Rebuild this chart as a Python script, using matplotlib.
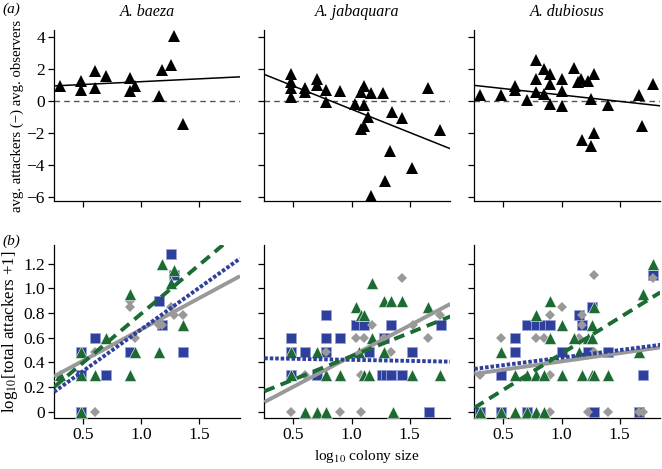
import numpy as np
import matplotlib
matplotlib.use("Agg")
import matplotlib.pyplot as plt

plt.rcParams['font.family'] = ['Liberation Serif', 'DejaVu Serif']
plt.rcParams['mathtext.fontset'] = 'stix'
plt.rcParams['font.size'] = 10.5

species = ["A. baeza", "A. jabaquara", "A. dubiosus"]

# (a) avg attackers - avg observers vs log10 colony size
baeza_x = [0.30, 0.48, 0.48, 0.60, 0.60, 0.70, 0.90, 0.90, 0.95, 1.15, 1.18, 1.26, 1.28, 1.36]
baeza_y = [0.92, 1.24, 0.71, 1.90, 0.84, 1.59, 1.42, 0.63, 0.96, 0.29, 1.95, 2.28, 4.10, -1.42]

jabaquara_x = [0.48, 0.48, 0.48, 0.48, 0.60, 0.60, 0.70, 0.70, 0.78, 0.78, 0.90, 1.03, 1.08, 1.11,
               1.11, 1.14, 1.11, 1.08, 1.17, 1.27, 1.35, 1.43, 1.33, 1.29, 1.17, 1.52, 1.66, 1.76]
jabaquara_y = [1.68, 1.19, 0.84, 0.25, 0.80, 0.54, 1.40, 1.00, 0.67, -0.08, 0.63, -0.17, 0.57, 0.96,
               -0.27, -1.00, -1.59, -1.76, 0.52, 0.48, -0.69, -1.09, -3.14, -5.05, -5.97, -4.21, 0.84, -1.84]

dubiosus_x = [0.30, 0.48, 0.60, 0.60, 0.70, 0.78, 0.78, 0.78, 0.85, 0.85, 0.90, 0.90, 0.90, 1.00, 1.00,
              1.00, 1.11, 1.14, 1.17, 1.23, 1.28, 1.25, 1.40, 1.18, 1.28, 1.25, 1.67, 1.69, 1.79]
dubiosus_y = [0.40, 0.40, 0.96, 0.67, 0.04, 2.55, 1.38, 0.54, 2.03, 0.44, 1.72, 1.05, -0.17, 1.38, 0.63,
              -0.31, 2.07, 1.17, 1.38, 1.24, 1.72, 0.10, -0.25, -2.43, -2.01, -2.81, 0.40, -1.57, 1.09]

# fitted lines (intercept, slope)
diff_fit = [(0.852, 0.356), (2.39, -2.914), (1.176, -0.803)]

# (b) log10(total attackers + 1) per series
bz_grey_x = [0.60, 0.60, 0.90, 0.90, 0.95, 1.15, 1.18, 1.26, 1.28, 1.36]
bz_grey_y = [0.48, 0.00, 0.90, 0.85, 0.60, 0.70, 0.70, 0.85, 0.78, 0.78]
bz_blue_x = [0.48, 0.48, 0.48, 0.60, 0.70, 0.90, 1.15, 1.18, 1.26, 1.28, 1.36]
bz_blue_y = [0.48, 0.30, 0.00, 0.60, 0.30, 0.48, 0.90, 0.70, 1.28, 1.11, 0.48]
bz_green_x = [0.30, 0.48, 0.48, 0.48, 0.60, 0.70, 0.90, 0.90, 0.95, 1.15, 1.18, 1.26, 1.28, 1.36]
bz_green_y = [0.30, 0.48, 0.30, 0.00, 0.30, 0.60, 0.95, 0.30, 0.48, 0.48, 1.20, 1.04, 1.15, 0.70]

jb_grey_x = [0.48, 0.60, 0.78, 0.90, 1.04, 1.08, 1.11, 1.18, 1.08, 1.28, 1.34, 1.43, 1.53, 1.66, 1.76]
jb_grey_y = [0.00, 0.30, 0.48, 0.00, 0.60, 0.00, 0.60, 0.70, 0.30, 0.60, 0.48, 1.08, 0.70, 0.60, 0.78]
jb_blue_x = [0.48, 0.48, 0.48, 0.60, 0.70, 0.78, 0.78, 0.78, 0.90, 1.04, 1.11, 1.15, 1.28, 1.34,
             1.26, 1.30, 1.34, 1.43, 1.52, 1.67, 1.77]
jb_blue_y = [0.60, 0.48, 0.30, 0.48, 0.30, 0.78, 0.60, 0.48, 0.60, 0.70, 0.70, 0.48, 0.60, 0.70,
             0.30, 0.30, 0.30, 0.30, 0.48, 0.00, 0.70]
jb_green_x = [0.48, 0.48, 0.60, 0.70, 0.70, 0.78, 0.78, 0.90, 1.04, 1.08, 1.11, 1.18, 1.18, 1.06,
              1.11, 1.15, 1.28, 1.34, 1.43, 1.28, 1.36, 1.52, 1.66, 1.76]
jb_green_y = [0.48, 0.30, 0.00, 0.48, 0.00, 0.30, 0.00, 0.30, 0.85, 0.78, 0.78, 1.04, 0.60, 0.48,
              0.30, 0.30, 0.90, 0.90, 0.90, 0.48, 0.00, 0.30, 0.85, 0.30]

db_grey_x = [0.30, 0.48, 0.78, 0.85, 0.90, 0.90, 0.90, 1.00, 1.15, 1.18, 1.18, 1.23, 1.28, 1.28,
             1.40, 1.67, 1.70, 1.79]
db_grey_y = [0.30, 0.60, 0.60, 0.60, 0.78, 0.30, 0.00, 0.85, 0.60, 0.78, 0.70, 0.00, 1.11, 0.48,
             0.00, 0.00, 0.00, 1.08]
db_blue_x = [0.30, 0.48, 0.48, 0.60, 0.60, 0.70, 0.70, 0.78, 0.85, 0.90, 1.00, 1.15, 1.18, 1.26,
             1.23, 1.40, 1.70, 1.28, 1.67, 1.79]
db_blue_y = [0.00, 0.30, 0.00, 0.60, 0.48, 0.70, 0.00, 0.70, 0.70, 0.70, 0.48, 0.78, 0.70, 0.85,
             0.48, 0.48, 0.30, 0.00, 0.00, 1.11]
db_green_x = [0.30, 0.48, 0.60, 0.70, 0.78, 0.85, 0.48, 0.60, 0.70, 0.78, 0.85, 0.78, 0.90, 0.90,
              1.00, 1.00, 1.11, 1.15, 1.18, 1.23, 1.26, 1.26, 1.28, 1.26, 1.28, 1.40, 1.67, 1.70, 1.79]
db_green_y = [0.00, 0.00, 0.00, 0.00, 0.00, 0.00, 0.48, 0.30, 0.30, 0.30, 0.30, 0.78, 0.90, 0.60,
              0.70, 0.30, 0.60, 0.48, 0.30, 0.60, 0.70, 0.60, 0.85, 0.30, 0.30, 0.30, 0.48, 0.95, 1.20]

# fitted lines (intercept, slope) for grey, blue, green
grey_fit = [(0.158, 0.508), (-0.048, 0.4975), (0.272, 0.134)]
blue_fit = [(-0.010, 0.676), (0.436, -0.017), (0.315, 0.122)]
green_fit = [(0.0, 0.793), (0.0695, 0.379), (-0.116, 0.585)]

top_x = [baeza_x, jabaquara_x, dubiosus_x]
top_y = [baeza_y, jabaquara_y, dubiosus_y]
grey_pts = [(bz_grey_x, bz_grey_y), (jb_grey_x, jb_grey_y), (db_grey_x, db_grey_y)]
blue_pts = [(bz_blue_x, bz_blue_y), (jb_blue_x, jb_blue_y), (db_blue_x, db_blue_y)]
green_pts = [(bz_green_x, bz_green_y), (jb_green_x, jb_green_y), (db_green_x, db_green_y)]

GREY = "#999999"
BLUE = "#2e3f9c"
GREEN = "#1b6b33"

fig = plt.figure(figsize=(6.62, 4.69), dpi=100)

lefts = [0.0816, 0.3993, 0.7165]
w = 0.281


def style_axes(ax):
    for s in ["top", "right"]:
        ax.spines[s].set_visible(False)
    for s in ["left", "bottom"]:
        ax.spines[s].set_linewidth(0.9)
    ax.tick_params(direction="out", length=4, width=0.9, labelsize=12.5, pad=2.5)
    ax.set_xlim(0.25, 1.85)
    ax.set_xticks([0.5, 1.0, 1.5])


for i in range(3):
    # top row
    ax = fig.add_axes([lefts[i], 0.5708, w, 0.3652])
    style_axes(ax)
    ax.set_ylim(-6.3, 4.45)
    ax.set_yticks([-6, -4, -2, 0, 2, 4])
    ax.set_xticklabels([])
    ax.axhline(0, color="#555555", lw=1, dashes=(4, 3), zorder=1)
    ax.plot(top_x[i], top_y[i], "^", color="black", ms=8.5, mew=0, zorder=3)
    xs = np.linspace(*ax.get_xlim(), 10)
    b0, b1 = diff_fit[i]
    ax.plot(xs, b0 + b1 * xs, color="black", lw=1.1, zorder=2)
    ax.set_title(species[i], style="italic", fontsize=11.5, pad=10)
    if i == 0:
        ax.set_ylabel("avg. attackers (\u2212) avg. observers", fontsize=10.6, labelpad=1.5)
    else:
        ax.set_yticklabels([])

    # bottom row
    ax = fig.add_axes([lefts[i], 0.1094, w, 0.3682])
    style_axes(ax)
    ax.set_ylim(-0.05, 1.35)
    ax.set_yticks([0, 0.2, 0.4, 0.6, 0.8, 1.0, 1.2])
    ax.set_xticklabels(["0.5", "1.0", "1.5"])
    bx, by = blue_pts[i]
    ax.plot(bx, by, "s", color=BLUE, ms=7, mec="#9aa3d6", mew=0.6, zorder=2)
    gx, gy = grey_pts[i]
    ax.plot(gx, gy, "D", color=GREY, ms=5, mew=0, zorder=3)
    tx, ty = green_pts[i]
    ax.plot(tx, ty, "^", color=GREEN, ms=8.5, mec="white", mew=0.4, zorder=4)
    xs = np.linspace(*ax.get_xlim(), 10)
    b0, b1 = grey_fit[i]
    ax.plot(xs, b0 + b1 * xs, color=GREY, lw=2.8, solid_capstyle="butt", zorder=5)
    b0, b1 = blue_fit[i]
    ax.plot(xs, b0 + b1 * xs, color=BLUE, lw=2.8, dashes=(0.9, 0.5), zorder=6)
    b0, b1 = green_fit[i]
    ax.plot(xs, b0 + b1 * xs, color=GREEN, lw=2.8, dashes=(2.8, 1.7), zorder=6)
    if i == 0:
        ax.set_yticklabels(["0", "0.2", "0.4", "0.6", "0.8", "1.0", "1.2"])
        ax.set_ylabel("log$_{10}$[total attackers +1]", fontsize=12.2, labelpad=2)
    else:
        ax.set_yticklabels([])

fig.text(0.003, 0.98, "(a)", style="italic", fontsize=11, va="center")
fig.text(0.003, 0.485, "(b)", style="italic", fontsize=11, va="center")
fig.text(0.554, 0.026, "log$_{10}$ colony size", fontsize=11, ha="center", va="center")

fig.savefig("out.png", dpi=100)
